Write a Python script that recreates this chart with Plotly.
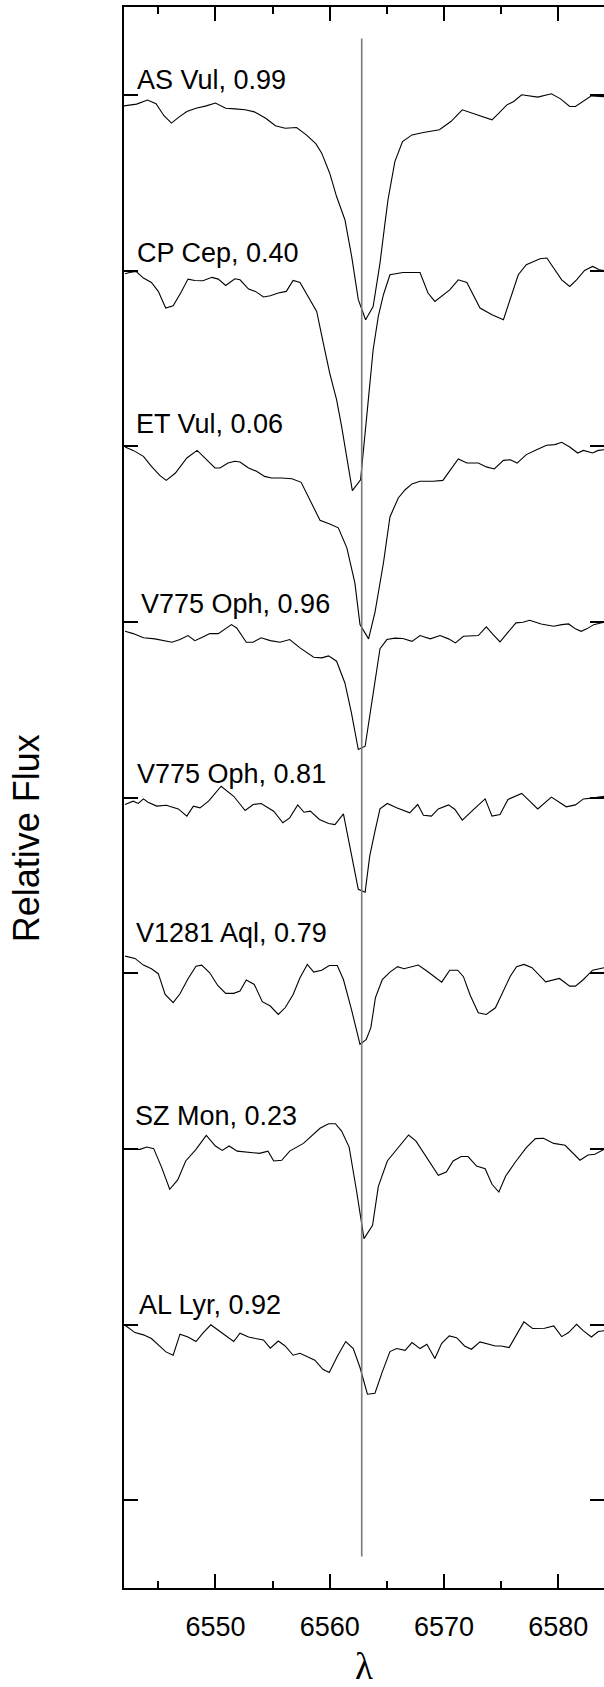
import plotly.graph_objects as go

# ---------------- data ----------------
# wavelengths (Angstrom) and relative flux for each star (continuum ~ 1)
wl_as_vul = [6542.0, 6543.1, 6544.06, 6544.8, 6545.5, 6546.15, 6546.8, 6547.5, 6548.3, 6549.2,
             6550.0, 6550.9, 6551.7, 6552.6, 6553.4, 6554.4, 6555.25, 6556.1, 6557.1, 6557.95,
             6558.8, 6559.3, 6560.0, 6560.6, 6561.33, 6561.92, 6562.5, 6563.14, 6563.8, 6564.4,
             6564.8, 6565.1, 6565.7, 6566.37, 6567.2, 6568.2, 6569.6, 6570.6, 6571.6, 6572.9,
             6574.2, 6574.8, 6575.5, 6576.1, 6576.8, 6578.2, 6579.4, 6580.2, 6581.0, 6581.5,
             6582.2, 6582.9, 6584.0]
fx_as_vul = [0.937, 0.947, 0.970, 0.949, 0.881, 0.839, 0.873, 0.905, 0.924, 0.937,
             0.953, 0.924, 0.920, 0.915, 0.903, 0.867, 0.824, 0.810, 0.814, 0.772,
             0.721, 0.668, 0.554, 0.421, 0.289, 0.080, -0.166, -0.280, -0.205, 0.042,
             0.251, 0.403, 0.620, 0.734, 0.772, 0.786, 0.801, 0.848, 0.915, 0.886,
             0.858, 0.896, 0.943, 0.962, 1.000, 0.987, 1.006, 0.977, 0.934, 0.934,
             0.966, 0.994, 0.990]

wl_cp_cep = [6542.09, 6542.5, 6543.05, 6543.7, 6544.4, 6545.0, 6545.65, 6546.3, 6546.96, 6547.6,
             6548.2, 6548.9, 6549.7, 6550.25, 6550.9, 6551.7, 6552.15, 6552.9, 6553.5, 6554.2,
             6554.8, 6555.5, 6556.2, 6556.8, 6557.4, 6558.1, 6558.86, 6559.44, 6560.0, 6560.6,
             6561.04, 6561.98, 6562.7, 6563.38, 6563.8, 6564.25, 6564.7, 6565.27, 6566.4, 6567.9,
             6568.6, 6569.2, 6570.5, 6571.25, 6572.0, 6573.15, 6574.2, 6575.2, 6576.5, 6577.2,
             6578.4, 6579.0, 6579.7, 6580.3, 6581.0, 6581.6, 6582.3, 6583.0, 6583.6, 6584.0]
fx_cp_cep = [0.981, 0.989, 0.995, 0.957, 0.932, 0.881, 0.786, 0.799, 0.872, 0.951,
             0.943, 0.942, 0.961, 0.951, 0.915, 0.953, 0.947, 0.894, 0.881, 0.849,
             0.856, 0.872, 0.881, 0.943, 0.932, 0.852, 0.767, 0.587, 0.416, 0.265,
             0.113, -0.253, -0.191, 0.265, 0.549, 0.739, 0.862, 0.976, 0.989, 0.989,
             0.872, 0.824, 0.890, 0.947, 0.932, 0.786, 0.748, 0.720, 0.976, 1.033,
             1.067, 1.071, 1.004, 0.947, 0.909, 0.947, 1.000, 1.023, 1.004, 1.000]

wl_et_vul = [6542.09, 6542.8, 6543.7, 6544.4, 6545.15, 6545.7, 6546.5, 6547.5, 6548.4, 6549.1,
             6549.96, 6550.4, 6551.1, 6551.7, 6552.15, 6552.9, 6553.6, 6554.3, 6554.9, 6555.8,
             6556.7, 6557.5, 6558.3, 6559.15, 6560.0, 6560.75, 6561.5, 6562.2, 6562.65, 6563.4,
             6563.96, 6564.7, 6565.27, 6566.0, 6566.6, 6567.2, 6567.9, 6569.06, 6569.9, 6570.5,
             6571.25, 6572.0, 6573.0, 6573.7, 6574.4, 6575.2, 6575.8, 6576.4, 6577.2, 6578.1,
             6578.97, 6579.7, 6580.3, 6581.0, 6581.7, 6582.2, 6583.0, 6583.5, 6584.0]
fx_et_vul = [0.995, 0.976, 0.942, 0.885, 0.832, 0.805, 0.847, 0.933, 0.976, 0.933,
             0.876, 0.876, 0.904, 0.914, 0.910, 0.876, 0.857, 0.828, 0.819, 0.819,
             0.815, 0.794, 0.686, 0.578, 0.557, 0.535, 0.421, 0.222, -0.016, -0.097,
             0.054, 0.335, 0.597, 0.705, 0.752, 0.785, 0.800, 0.800, 0.805, 0.862,
             0.927, 0.904, 0.904, 0.882, 0.870, 0.919, 0.923, 0.904, 0.952, 0.980,
             1.005, 1.009, 1.022, 0.995, 0.961, 0.976, 0.961, 0.976, 0.980]

wl_v775_a = [6542.09, 6542.8, 6543.7, 6544.7, 6546.2, 6546.9, 6547.6, 6548.2, 6548.9, 6549.5,
             6550.25, 6550.8, 6551.4, 6551.86, 6552.7, 6553.3, 6554.0, 6554.8, 6555.65, 6556.5,
             6557.4, 6558.6, 6559.3, 6559.9, 6560.6, 6561.33, 6561.9, 6562.5, 6563.1, 6563.5,
             6563.96, 6564.4, 6565.0, 6565.7, 6566.4, 6567.2, 6567.9, 6568.8, 6569.65, 6570.4,
             6571.0, 6571.7, 6573.0, 6573.7, 6574.3, 6574.9, 6575.5, 6576.3, 6576.9, 6577.5,
             6578.5, 6579.6, 6580.3, 6580.9, 6581.5, 6582.0, 6582.5, 6583.1, 6584.0]
fx_v775_a = [0.946, 0.933, 0.909, 0.903, 0.884, 0.899, 0.922, 0.893, 0.914, 0.933,
             0.933, 0.956, 0.984, 0.965, 0.884, 0.884, 0.909, 0.893, 0.884, 0.899,
             0.852, 0.798, 0.795, 0.806, 0.776, 0.652, 0.482, 0.273, 0.292, 0.463,
             0.652, 0.847, 0.899, 0.907, 0.905, 0.889, 0.922, 0.903, 0.922, 0.903,
             0.880, 0.918, 0.922, 0.971, 0.927, 0.886, 0.933, 0.994, 0.998, 1.009,
             0.988, 0.975, 0.984, 0.988, 0.960, 0.946, 0.960, 0.984, 0.998]

wl_v775_b = [6542.09, 6542.4, 6542.8, 6543.25, 6543.7, 6544.1, 6544.86, 6545.7, 6546.75, 6547.5,
             6548.07, 6548.65, 6549.4, 6550.5, 6551.6, 6552.6, 6553.3, 6554.0, 6555.1, 6555.9,
             6556.5, 6557.2, 6557.75, 6558.3, 6559.1, 6559.9, 6560.46, 6561.2, 6561.8, 6562.5,
             6563.1, 6563.5, 6563.96, 6564.4, 6565.04, 6565.85, 6567.0, 6567.7, 6568.2, 6568.9,
             6569.5, 6570.4, 6570.96, 6571.6, 6572.6, 6573.6, 6574.2, 6574.9, 6575.6, 6576.8,
             6577.5, 6578.2, 6579.4, 6580.7, 6581.5, 6582.2, 6583.1, 6584.0]
fx_v775_b = [0.960, 0.970, 0.979, 0.966, 0.992, 0.973, 0.951, 0.956, 0.935, 0.894,
             0.951, 0.941, 0.979, 1.064, 1.007, 0.926, 0.960, 0.966, 0.922, 0.856,
             0.884, 0.958, 0.916, 0.922, 0.875, 0.852, 0.846, 0.907, 0.704, 0.477,
             0.461, 0.666, 0.808, 0.935, 0.966, 0.941, 0.913, 0.960, 0.899, 0.894,
             0.935, 0.958, 0.932, 0.871, 0.932, 0.992, 0.894, 0.903, 0.989, 1.023,
             0.979, 0.935, 1.002, 0.947, 0.958, 0.992, 0.998, 1.007]

wl_v1281 = [6542.09, 6542.96, 6543.7, 6544.4, 6545.0, 6545.6, 6546.3, 6546.9, 6547.6, 6548.3,
            6548.8, 6549.5, 6550.2, 6550.9, 6551.6, 6552.15, 6552.7, 6553.4, 6554.1, 6554.8,
            6555.5, 6556.1, 6556.8, 6557.4, 6558.04, 6558.6, 6559.3, 6559.96, 6560.66, 6561.2,
            6561.9, 6562.65, 6563.2, 6563.6, 6564.0, 6564.6, 6565.27, 6565.94, 6566.5, 6567.75,
            6568.5, 6569.8, 6570.5, 6571.2, 6571.7, 6572.3, 6573.0, 6573.7, 6574.5, 6575.0,
            6575.8, 6576.35, 6577.0, 6577.7, 6578.9, 6580.1, 6581.0, 6581.5, 6582.2, 6583.0,
            6584.0]
fx_v1281 = [1.097, 1.084, 1.046, 1.025, 0.997, 0.879, 0.832, 0.883, 0.968, 1.040,
            1.046, 1.002, 0.930, 0.885, 0.885, 0.898, 0.961, 0.936, 0.838, 0.813,
            0.765, 0.803, 0.879, 0.974, 1.050, 1.006, 1.017, 1.044, 1.044, 0.964,
            0.794, 0.595, 0.623, 0.690, 0.860, 0.964, 1.006, 1.037, 1.025, 1.046,
            1.012, 0.949, 1.017, 1.017, 0.980, 0.873, 0.775, 0.765, 0.803, 0.869,
            0.983, 1.037, 1.050, 1.031, 0.951, 0.970, 0.926, 0.926, 0.964, 1.017,
            1.031]

wl_sz_mon = [6542.09, 6543.4, 6544.0, 6544.6, 6545.3, 6546.0, 6546.7, 6547.4, 6548.3, 6549.2,
             6550.0, 6550.6, 6551.2, 6551.9, 6553.3, 6553.85, 6554.6, 6555.1, 6555.8, 6556.5,
             6557.7, 6558.6, 6559.15, 6559.9, 6560.5, 6561.04, 6561.7, 6562.35, 6563.0, 6563.75,
             6564.25, 6565.04, 6566.0, 6566.9, 6567.55, 6568.5, 6569.5, 6570.2, 6570.8, 6571.5,
             6572.1, 6572.85, 6573.6, 6574.2, 6574.8, 6575.4, 6576.2, 6577.2, 6578.0, 6578.7,
             6579.6, 6580.6, 6581.9, 6582.6, 6583.2, 6584.0]
fx_sz_mon = [0.997, 0.997, 1.010, 1.001, 0.893, 0.770, 0.823, 0.931, 0.997, 1.077,
             1.016, 0.991, 1.016, 0.987, 0.978, 0.974, 0.987, 0.931, 0.935, 0.987,
             1.031, 1.083, 1.117, 1.143, 1.143, 1.101, 1.010, 0.760, 0.489, 0.565,
             0.785, 0.931, 1.010, 1.079, 1.044, 0.950, 0.849, 0.868, 0.931, 0.956,
             0.956, 0.902, 0.887, 0.798, 0.754, 0.845, 0.921, 1.007, 1.058, 1.060,
             1.031, 1.020, 0.935, 0.965, 0.969, 0.997]

wl_al_lyr = [6542.09, 6542.96, 6543.7, 6544.4, 6545.1, 6545.67, 6546.3, 6546.9, 6547.6, 6548.3,
             6548.94, 6549.6, 6550.25, 6550.9, 6551.6, 6552.15, 6552.9, 6553.5, 6554.2, 6554.8,
             6555.5, 6556.1, 6556.8, 6557.4, 6558.1, 6558.7, 6559.4, 6559.96, 6560.66, 6561.4,
             6562.06, 6562.65, 6563.3, 6563.96, 6564.6, 6565.27, 6565.85, 6566.6, 6567.2, 6567.9,
             6568.5, 6569.2, 6569.8, 6570.46, 6571.1, 6571.8, 6572.4, 6573.15, 6574.5, 6575.0,
             6575.7, 6576.99, 6577.75, 6578.8, 6579.6, 6580.3, 6580.9, 6581.6, 6582.2, 6582.9,
             6583.5, 6584.0]
fx_al_lyr = [0.996, 0.954, 0.941, 0.920, 0.878, 0.844, 0.825, 0.945, 0.929, 0.903,
             0.954, 0.998, 0.967, 0.935, 0.903, 0.950, 0.929, 0.920, 0.912, 0.865,
             0.906, 0.878, 0.825, 0.836, 0.815, 0.797, 0.745, 0.727, 0.818, 0.903,
             0.863, 0.755, 0.603, 0.609, 0.730, 0.846, 0.863, 0.853, 0.897, 0.863,
             0.888, 0.806, 0.893, 0.935, 0.925, 0.878, 0.859, 0.901, 0.878, 0.878,
             0.869, 1.015, 0.977, 0.979, 0.992, 0.931, 0.954, 1.001, 0.964, 0.929,
             0.960, 0.964]

star_labels = ["AS Vul, 0.99", "CP Cep, 0.40", "ET Vul, 0.06", "V775 Oph, 0.96",
               "V775 Oph, 0.81", "V1281 Aql, 0.79", "SZ Mon, 0.23", "AL Lyr, 0.92"]
star_offsets = [7, 6, 5, 4, 3, 2, 1, 0]
label_x = [6543.0, 6542.95, 6542.85, 6543.3, 6543.0, 6542.85, 6542.75, 6543.15]
label_y = [8.084, 7.098, 6.127, 5.101, 4.133, 3.230, 2.185, 1.111]

halpha_x = [6562.8, 6562.8]
halpha_y = [-0.32, 8.32]

x_ticks = [6550, 6560, 6570, 6580]
x_minor_ticks = [6545, 6555, 6565, 6575]
y_ticks = [0, 1, 2, 3, 4, 5, 6, 7, 8]

spectra = [(wl_as_vul, fx_as_vul), (wl_cp_cep, fx_cp_cep), (wl_et_vul, fx_et_vul),
           (wl_v775_a, fx_v775_a), (wl_v775_b, fx_v775_b), (wl_v1281, fx_v1281),
           (wl_sz_mon, fx_sz_mon), (wl_al_lyr, fx_al_lyr)]

# ---------------- figure ----------------
SANS = "Liberation Sans, Arial, Helvetica, sans-serif"
SERIF = "Liberation Serif, Times New Roman, serif"

fig = go.Figure()
for (wl, fx), off, name in zip(spectra, star_offsets, star_labels):
    fig.add_trace(go.Scatter(x=wl, y=[f + off for f in fx], mode="lines", name=name,
                             line=dict(color="black", width=1.1), showlegend=False,
                             hoverinfo="skip"))

fig.add_trace(go.Scatter(x=halpha_x, y=halpha_y, mode="lines", yaxis="y2",
                         line=dict(color="#7a7a7a", width=1.6), showlegend=False,
                         hoverinfo="skip"))

annotations = []
for txt, lx, ly in zip(star_labels, label_x, label_y):
    annotations.append(dict(text=txt, x=lx, y=ly, xref="x", yref="y", showarrow=False,
                            xanchor="left", yanchor="middle",
                            font=dict(family=SANS, size=27, color="black")))
annotations.append(dict(text="Relative Flux", x=-0.2015, y=0.4744, xref="paper", yref="paper",
                        textangle=-90, showarrow=False, xanchor="center", yanchor="middle",
                        font=dict(family=SANS, size=36, color="black")))

fig.update_layout(
    width=604, height=1687,
    margin=dict(l=124, r=0, t=7, b=99, autoexpand=False),
    paper_bgcolor="white", plot_bgcolor="white",
    showlegend=False,
    font=dict(family=SANS, size=27, color="black"),
    annotations=annotations,
    xaxis=dict(range=[6542, 6584], tickmode="array", tickvals=x_ticks,
               ticks="inside", ticklen=14, tickwidth=2, tickcolor="black",
               showline=True, linewidth=2, linecolor="black", mirror="ticks",
               showgrid=False, zeroline=False, automargin=False,
               minor=dict(tickmode="array", tickvals=x_minor_ticks, ticks="inside",
                          ticklen=7, tickwidth=2, tickcolor="black", showgrid=False),
               tickfont=dict(family=SANS, size=27, color="black"),
               ticklabelstandoff=14,
               title=dict(text="λ", font=dict(family=SERIF, size=37, color="black"),
                          standoff=20)),
    yaxis=dict(range=[-0.5, 8.5], tickmode="array", tickvals=y_ticks,
               ticks="inside", ticklen=14, tickwidth=2, tickcolor="black",
               showticklabels=False, showline=True, linewidth=2, linecolor="black",
               showgrid=False, zeroline=False, automargin=False),
    yaxis2=dict(range=[-0.5, 8.5], overlaying="y", side="right", anchor="x",
                tickmode="array", tickvals=y_ticks,
                ticks="inside", ticklen=14, tickwidth=2, tickcolor="black",
                showticklabels=False, showline=False, showgrid=False, zeroline=False,
                automargin=False),
)

fig.write_html("out.html")
